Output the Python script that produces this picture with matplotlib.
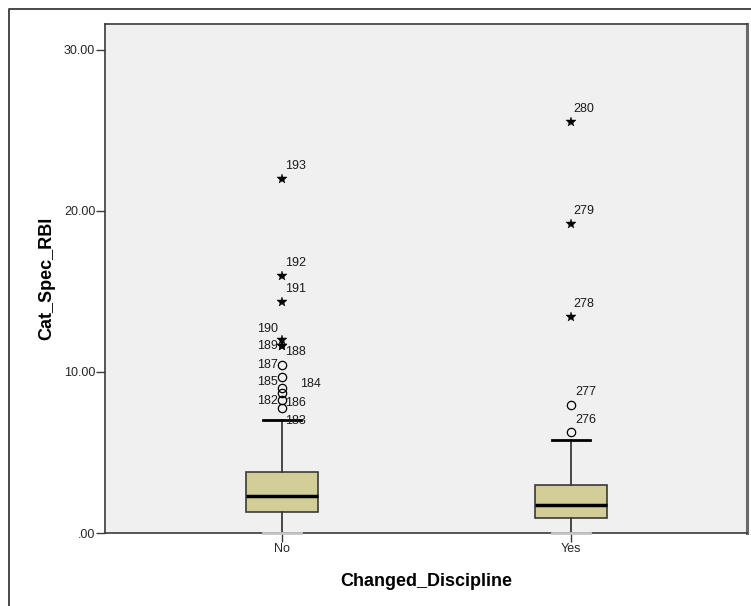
import matplotlib
matplotlib.use("Agg")
import matplotlib.pyplot as plt
from matplotlib.lines import Line2D

plt.rcParams["font.family"] = ["Liberation Sans", "DejaVu Sans"]

# Group summary statistics
groups = ["No", "Yes"]
q1 = [1.30, 0.93]
medians = [2.30, 1.74]
q3 = [3.79, 2.98]
whisker_low = [0.0, 0.0]
whisker_high = [7.02, 5.78]

# Outliers (open circles) and extremes (stars), with case numbers
out_group = ["No", "No", "No", "No", "No", "No", "Yes", "Yes"]
out_values = [10.43, 9.69, 9.01, 8.70, 8.26, 7.76, 7.95, 6.27]
out_labels = ["187", "185", "184", "186", "182", "183", "277", "276"]

ext_group = ["No", "No", "No", "No", "No", "No", "Yes", "Yes", "Yes"]
ext_values = [21.99, 15.96, 14.35, 12.00, 11.60, 11.60, 25.53, 19.19, 13.42]
ext_labels = ["193", "192", "191", "190", "189", "188", "280", "279", "278"]

y_ticks = [0, 10, 20, 30]
y_ticklabels = [".00", "10.00", "20.00", "30.00"]

# label placement (dx, dy in points, horizontal alignment)
label_pos = {
    "193": (2, 9, "left"), "192": (2, 9, "left"), "191": (2, 9, "left"),
    "190": (-3, 8, "right"), "189": (-3, 0, "right"), "188": (2, -4, "left"),
    "187": (-3, 0, "right"), "185": (-3, -4, "right"), "184": (13, 3, "left"),
    "186": (2, -7, "left"), "182": (-3, -1, "right"), "183": (2, -9, "left"),
    "280": (2, 9, "left"), "279": (2, 9, "left"), "278": (2, 9, "left"),
    "277": (3, 9, "left"), "276": (3, 9, "left"),
}

fig = plt.figure(figsize=(7.51, 6.06), dpi=100)
fig.patch.set_facecolor("white")

# outer frame around the chart
frame = Line2D([9 / 751, 9 / 751, 1.0], [0.0, 1 - 9 / 606, 1 - 9 / 606],
               transform=fig.transFigure, color="#3a3a3a", lw=1.3)
fig.add_artist(frame)

ax = fig.add_axes([105 / 751, 73 / 606, (747 - 105) / 751, (533 - 24) / 606])
ax.set_facecolor("#f0f0f0")

positions = {g: i + 1 for i, g in enumerate(groups)}
stats = []
for i, g in enumerate(groups):
    stats.append(dict(label=g, q1=q1[i], med=medians[i], q3=q3[i],
                      whislo=whisker_low[i], whishi=whisker_high[i], fliers=[]))

ax.bxp(stats, positions=[positions[g] for g in groups], widths=0.25,
       patch_artist=True, showfliers=False,
       boxprops=dict(facecolor="#d3ce98", edgecolor="#3a3a3a", linewidth=1.2),
       medianprops=dict(color="black", linewidth=2.5),
       whiskerprops=dict(color="#3a3a3a", linewidth=1.3),
       capprops=dict(color="black", linewidth=2.0), capwidths=0.13)

# lower caps at zero are drawn in light grey, above the axis line
for ln in ax.lines:
    yd = ln.get_ydata()
    if len(yd) == 2 and yd[0] == yd[1] == 0:
        ln.set_color("#c4c4c4")
        ln.set_zorder(5)
        ln.set_clip_on(False)

ox = [positions[g] for g in out_group]
ax.plot(ox, out_values, linestyle="none", marker="o", markersize=6,
        markerfacecolor="none", markeredgecolor="black", markeredgewidth=0.9)
ex = [positions[g] for g in ext_group]
ax.plot(ex, ext_values, linestyle="none", marker="*", markersize=7,
        markerfacecolor="black", markeredgecolor="black", markeredgewidth=0.3)

for xs, ys, labs in ((ox, out_values, out_labels), (ex, ext_values, ext_labels)):
    for x, y, lab in zip(xs, ys, labs):
        dx, dy, ha = label_pos[lab]
        ax.annotate(lab, (x, y), xytext=(dx, dy), textcoords="offset points",
                    ha=ha, va="center", fontsize=9, color="#1a1a1a")

ax.set_xlim(0.388, 2.609)
ax.set_ylim(0, 31.6)
ax.set_yticks(y_ticks)
ax.set_yticklabels(y_ticklabels)
ax.set_xticks([positions[g] for g in groups])
ax.set_xticklabels(groups)
ax.tick_params(axis="both", direction="out", length=6.5, width=1.0,
               color="#3a3a3a", labelsize=9, labelcolor="#262626", pad=0.5)

for side in ("left", "bottom", "top"):
    ax.spines[side].set_color("#3a3a3a")
    ax.spines[side].set_linewidth(1.2)
ax.spines["right"].set_color("#6a6a6a")
ax.spines["right"].set_linewidth(2.2)

ax.set_ylabel("Cat_Spec_RBI", fontsize=13, fontweight="bold", labelpad=6)
ax.set_xlabel("Changed_Discipline", fontsize=13, fontweight="bold", labelpad=13)

fig.savefig("out.png", dpi=100)
